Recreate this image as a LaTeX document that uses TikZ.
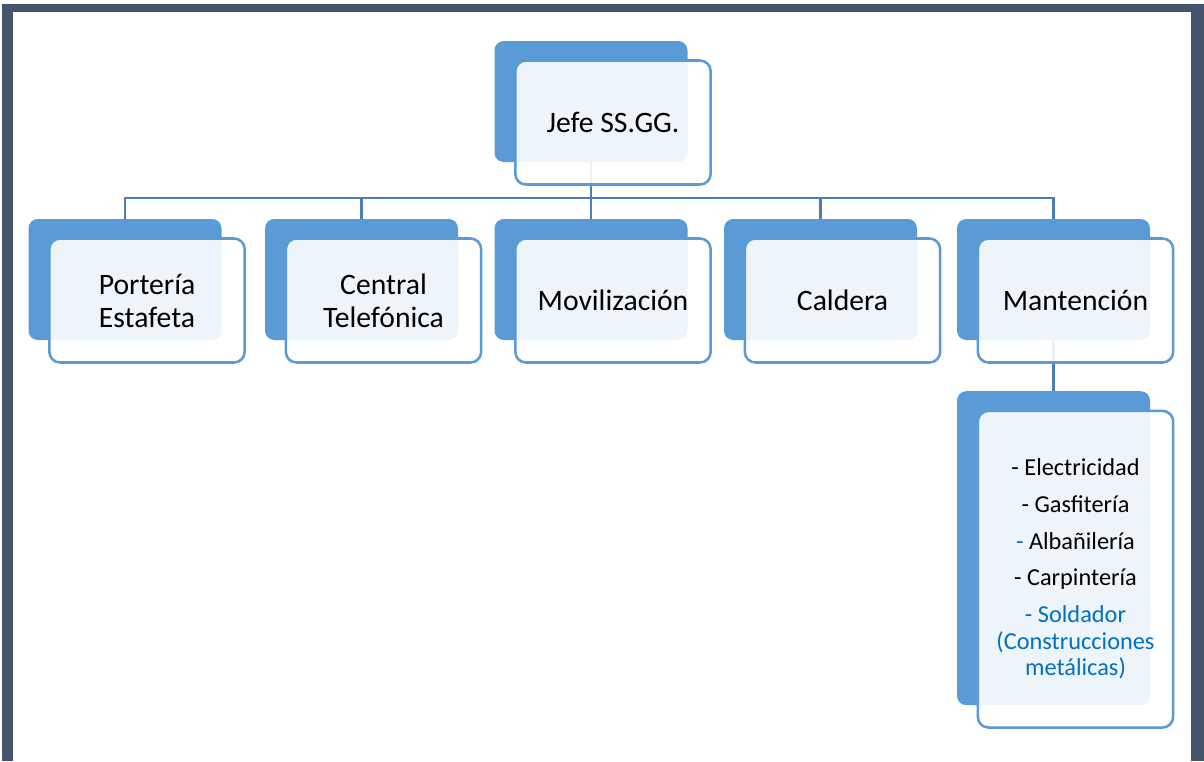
\documentclass[tikz,border=0pt]{standalone}
\usepackage{fontspec}
\setmainfont{Carlito}
\usetikzlibrary{positioning}
\definecolor{framegray}{HTML}{44546A}
\definecolor{boxblue}{HTML}{5B9BD5}
\definecolor{linkblue}{HTML}{4A7EBB}
\definecolor{textblue}{HTML}{0070C0}
\begin{document}
\begin{tikzpicture}[x=0.75pt, y=-0.75pt,
  back/.style = {fill=boxblue, rounded corners=7pt, minimum width=144.75pt, minimum height=90.75pt, inner sep=0pt},
  front/.style = {draw=boxblue, line width=1.9pt, fill=white, fill opacity=0.9, text opacity=1, rounded corners=8pt, minimum width=146.5pt, minimum height=93pt, inner sep=0pt, align=center, font=\fontsize{22.25}{24.75}\selectfont},
  link/.style = {draw=linkblue, line width=1.8pt}]
\useasboundingbox (0,0) rectangle (1204,761);
% frame
\fill[framegray] (2,4) rectangle (1204,761);
\fill[white] (13,12) rectangle (1191,761);
% back boxes
\node[back] (jefeb) at (591,101.5) {};
\node[back] (portb) at (125,279.5) {};
\node[back] (centb) at (361.5,279.5) {};
\node[back] (movib) at (591,279.5) {};
\node[back] (caldb) at (820.5,279.5) {};
\node[back] (mantb) at (1053.5,279.5) {};
\node[back, minimum height=235.5pt] (oficiosb) [below=38pt of mantb] {};
% connectors
\coordinate (bus) at (591,198);
\draw[link] (jefeb.south) -- (bus);
\foreach \n in {portb, centb, movib, caldb, mantb}
  \draw[link] (bus) -| (\n.north);
\draw[link] (mantb.south) -- (oficiosb.north);
% front boxes
\node[front] (jefef) at ([shift={(22,21)}]jefeb.center) {Jefe SS.GG.};
\node[front] (portf) at ([shift={(22,21)}]portb.center) {Portería\\Estafeta};
\node[front] (centf) at ([shift={(22,21)}]centb.center) {Central\\Telefónica};
\node[front] (movif) at ([shift={(22,21)}]movib.center) {Movilización};
\node[front] (caldf) at ([shift={(22,21)}]caldb.center) {Caldera};
\node[front] (mantf) at ([shift={(22,21)}]mantb.center) {Mantención};
\node[front, minimum height=237.5pt, font=\fontsize{18.25}{20}\selectfont] (oficiosf) at ([shift={(22,21)}]oficiosb.center)
  {- Electricidad\\[7.5pt]
   - Gasfitería\\[7.5pt]
   \textcolor{textblue}{-} Albañilería\\[7.5pt]
   - Carpintería\\[7.5pt]
   \textcolor{textblue}{- Soldador}\\
   \textcolor{textblue}{(Construcciones}\\
   \textcolor{textblue}{metálicas)}};
\end{tikzpicture}
\end{document}
